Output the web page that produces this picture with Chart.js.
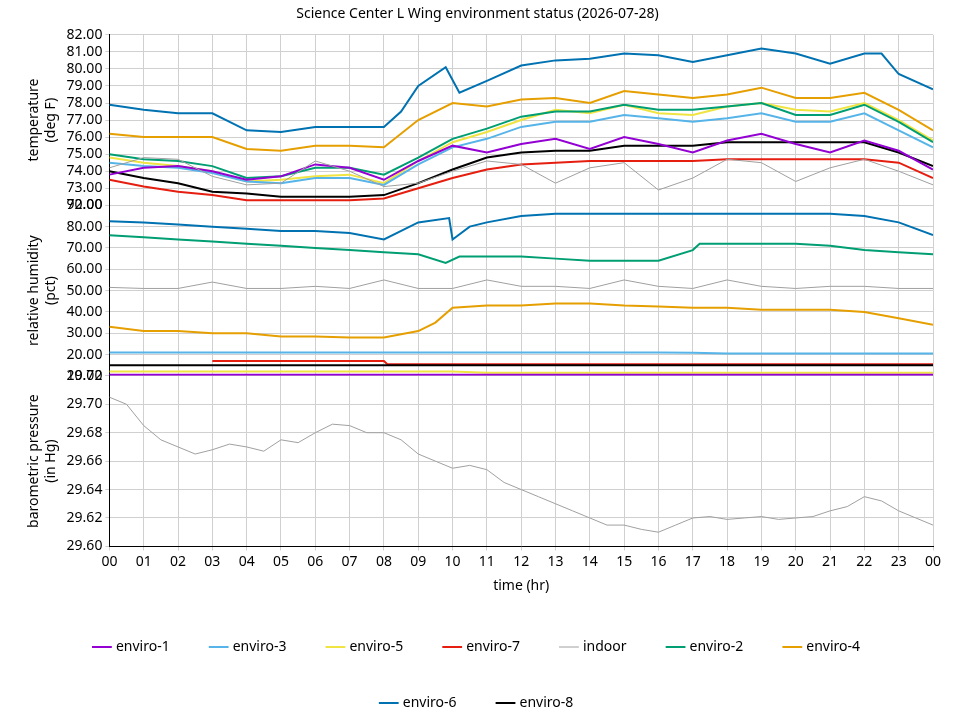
<!DOCTYPE html>
<html>
<head>
<meta charset="utf-8">
<script src="https://cdn.jsdelivr.net/npm/chart.js@4"></script>
<style>
  html, body { margin: 0; padding: 0; background: #fff; }
  #wrap { width: 960px; height: 720px; }
</style>
</head>
<body>
<div id="wrap"><canvas id="envChart"></canvas></div>
<script>
// hours 0..24
const hours = [0,1,2,3,4,5,6,7,8,9,10,11,12,13,14,15,16,17,18,19,20,21,22,23,24];
const names = ['enviro-1','enviro-2','enviro-3','enviro-4','enviro-5','enviro-6','enviro-7','enviro-8','indoor'];
const colors = ['#9400d3','#009e73','#56b4e9','#e69f00','#f0e442','#0072b2','#e51e10','#000000','#a0a0a0'];

// temperature (deg F)
const tempEnv1 = [73.8,74.2,74.3,74.0,73.5,73.7,74.4,74.2,73.5,74.6,75.5,75.1,75.6,75.9,75.3,76.0,75.6,75.1,75.8,76.2,75.6,75.1,75.8,75.2,74.1];
const tempEnv2 = [75.0,74.7,74.6,74.3,73.6,73.7,74.2,74.2,73.8,74.8,75.9,76.5,77.2,77.5,77.5,77.9,77.6,77.6,77.8,78.0,77.3,77.3,77.9,76.9,75.7];
const tempEnv3 = [74.5,74.3,74.2,73.9,73.4,73.3,73.6,73.6,73.2,74.4,75.4,75.9,76.6,76.9,76.9,77.3,77.1,76.9,77.1,77.4,76.9,76.9,77.4,76.4,75.4];
const tempEnv4 = [76.2,76.0,76.0,76.0,75.3,75.2,75.5,75.5,75.4,77.0,78.0,77.8,78.2,78.3,78.0,78.7,78.5,78.3,78.5,78.9,78.3,78.3,78.6,77.6,76.4];
const tempEnv5 = [74.8,74.5,74.3,74.0,73.4,73.5,73.7,73.8,73.3,74.6,75.7,76.3,77.0,77.6,77.4,77.9,77.4,77.3,77.8,78.0,77.6,77.5,78.0,77.0,75.8];
const tempEnv6Hours = [0,1,2,3,4,5,6,7,8,8.5,9,9.8,10.2,11,12,13,14,15,16,17,18,19,20,21,22,22.5,23,24];
const tempEnv6 = [77.9,77.6,77.4,77.4,76.4,76.3,76.6,76.6,76.6,77.5,79.0,80.1,78.6,79.3,80.2,80.5,80.6,80.9,80.8,80.4,80.8,81.2,80.9,80.3,80.9,80.9,79.7,78.8];
const tempEnv7 = [73.5,73.1,72.8,72.6,72.3,72.3,72.3,72.3,72.4,73.0,73.6,74.1,74.4,74.5,74.6,74.6,74.6,74.6,74.7,74.7,74.7,74.7,74.7,74.5,73.6];
const tempEnv8 = [74.0,73.6,73.3,72.8,72.7,72.5,72.5,72.5,72.6,73.3,74.1,74.8,75.1,75.2,75.2,75.5,75.5,75.5,75.7,75.7,75.7,75.7,75.7,75.1,74.3];
const tempIndoor = [74.2,74.8,74.7,73.7,73.2,73.3,74.6,74.0,73.1,73.3,74.0,74.6,74.4,73.3,74.2,74.5,72.9,73.6,74.7,74.5,73.4,74.2,74.7,74.0,73.2];

// relative humidity (pct)
const humEnv1 = [10.5,10.5,10.5,10.5,10.5,10.5,10.5,10.5,10.5,10.5,10.5,10.5,10.5,10.5,10.5,10.5,10.5,10.5,10.5,10.5,10.5,10.5,10.5,10.5,10.5];
const humEnv2Hours = [0,1,2,3,4,5,6,7,8,9,9.8,10.2,11,12,13,14,15,16,17,17.2,18,19,20,21,22,23,24];
const humEnv2 = [76,75,74,73,72,71,70,69,68,67,63,66,66,66,65,64,64,64,69,72,72,72,72,71,69,68,67];
const humEnv3 = [21,21,21,21,21,21,21,21,21,21,21,21,21,21,21,21,21,20.8,20.5,20.5,20.5,20.5,20.5,20.5,20.5];
const humEnv4Hours = [0,1,2,3,4,5,6,7,8,9,9.5,10,11,12,13,14,15,16,17,18,19,20,21,22,23,24];
const humEnv4 = [33,31,31,30,30,28.5,28.5,28,28,31,35,42,43,43,44,44,43,42.5,42,42,41,41,41,40,37,34];
const humEnv5 = [12,12,12,12,12,12,12,12,12,12,12,11.5,11.5,11.5,11.5,11.5,11.5,11.5,11.5,11.5,11.5,11.5,11.5,11.5,11.5];
const humEnv6Hours = [0,1,2,3,4,5,6,7,8,9,9.9,10.0,10.5,11,12,13,14,15,16,17,18,19,20,21,22,23,24];
const humEnv6 = [82.5,82,81,80,79,78,78,77,74,82,84,74,80,82,85,86,86,86,86,86,86,86,86,86,85,82,76];
const humEnv7Hours = [3,8,8.1,11.5,24];
const humEnv7 = [17,17,15.5,15.5,15.5];
const humEnv8 = [15,15,15,15,15,15,15,15,15,15,15,15,15,15,15,15,15,15,15,15,15,15,15,15,15];
const humIndoor = [51.5,51,51,54,51,51,52,51,55,51,51,55,52,52,51,55,52,51,55,52,51,52,52,51,51];

// barometric pressure (in Hg), half-hourly
const presHours = [0,0.5,1,1.5,2,2.5,3,3.5,4,4.5,5,5.5,6,6.5,7,7.5,8,8.5,9,9.5,10,10.5,11,11.5,12,12.5,13,13.5,14,14.5,15,15.5,16,16.5,17,17.5,18,18.5,19,19.5,20,20.5,21,21.5,22,22.5,23,23.5,24];
const presIndoor = [29.705,29.700,29.685,29.675,29.670,29.665,29.668,29.672,29.670,29.667,29.675,29.673,29.680,29.686,29.685,29.680,29.680,29.675,29.665,29.660,29.655,29.657,29.654,29.645,29.640,29.635,29.630,29.625,29.620,29.615,29.615,29.612,29.610,29.615,29.620,29.621,29.619,29.620,29.621,29.619,29.620,29.621,29.625,29.628,29.635,29.632,29.625,29.620,29.615];

function pts(xs, ys) { return ys.map((v, i) => ({ x: xs[i], y: v })); }
const F = 'Noto Sans';

function ds(idx, xs, ys, axis, showInLegend) {
  return {
    label: names[idx], data: pts(xs, ys), yAxisID: axis,
    borderColor: colors[idx], backgroundColor: colors[idx],
    borderWidth: idx === 8 ? 1 : 2, pointRadius: 0, tension: 0,
    hideInLegend: !showInLegend
  };
}

const datasets = [
  ds(8, hours, tempIndoor, 'yT', false),
  ds(0, hours, tempEnv1, 'yT', true),
  ds(1, hours, tempEnv2, 'yT', true),
  ds(2, hours, tempEnv3, 'yT', true),
  ds(3, hours, tempEnv4, 'yT', true),
  ds(4, hours, tempEnv5, 'yT', true),
  ds(5, tempEnv6Hours, tempEnv6, 'yT', true),
  ds(6, hours, tempEnv7, 'yT', true),
  ds(7, hours, tempEnv8, 'yT', true),
  ds(8, hours, humIndoor, 'yH', true),
  ds(0, hours, humEnv1, 'yH', false),
  ds(1, humEnv2Hours, humEnv2, 'yH', false),
  ds(2, hours, humEnv3, 'yH', false),
  ds(3, humEnv4Hours, humEnv4, 'yH', false),
  ds(4, hours, humEnv5, 'yH', false),
  ds(5, humEnv6Hours, humEnv6, 'yH', false),
  ds(7, hours, humEnv8, 'yH', false),
  ds(6, humEnv7Hours, humEnv7, 'yH', false),
  ds(8, presHours, presIndoor, 'yP', false)
];

const legendOrder = ['enviro-1','enviro-3','enviro-5','enviro-7','indoor','enviro-2','enviro-4','enviro-6','enviro-8'];
const grid = { color: '#d0d0d0', drawTicks: true, tickLength: 4 };
const border = { color: '#000', width: 1 };

function yAxis(min, max, step, title) {
  return {
    type: 'linear', position: 'left', stack: 'env', stackWeight: 1,
    min: min, max: max, border: border, grid: grid,
    title: { display: true, text: title, font: { family: F, size: 14 }, color: '#000' },
    ticks: { stepSize: step, autoSkip: false, color: '#000', font: { family: F, size: 14 },
             callback: v => v.toFixed(2) }
  };
}

new Chart(document.getElementById('envChart'), {
  type: 'line',
  data: { datasets: datasets },
  options: {
    responsive: true, maintainAspectRatio: false, animation: false,
    layout: { padding: { left: 22, right: 27, top: 0, bottom: 0 } },
    scales: {
      x: {
        type: 'linear', min: 0, max: 24, border: border, grid: grid,
        title: { display: true, text: 'time (hr)', font: { family: F, size: 14 }, color: '#000' },
        ticks: { stepSize: 1, autoSkip: false, color: '#000', font: { family: F, size: 14 }, maxRotation: 0,
                 callback: v => String(v % 24).padStart(2, '0') }
      },
      // stacked axes are laid out bottom-up in definition order
      yP: yAxis(29.60, 29.72, 0.02, ['barometric pressure', '(in Hg)']),
      yH: yAxis(10, 90, 10, ['relative humidity', '(pct)']),
      yT: yAxis(72, 82, 1, ['temperature', '(deg F)'])
    },
    plugins: {
      title: { display: true, text: 'Science Center L Wing environment status (2026-07-28)',
               font: { family: F, size: 14, weight: 'normal' }, color: '#000', padding: { top: 6, bottom: 12 } },
      legend: {
        position: 'bottom',
        labels: {
          font: { family: F, size: 14 }, color: '#000',
          usePointStyle: true, pointStyle: 'line', boxWidth: 60, padding: 42,
          filter: (item, data) => !data.datasets[item.datasetIndex].hideInLegend,
          sort: (a, b) => legendOrder.indexOf(a.text) - legendOrder.indexOf(b.text)
        }
      },
      tooltip: { enabled: false }
    }
  }
});
</script>
</body>
</html>
